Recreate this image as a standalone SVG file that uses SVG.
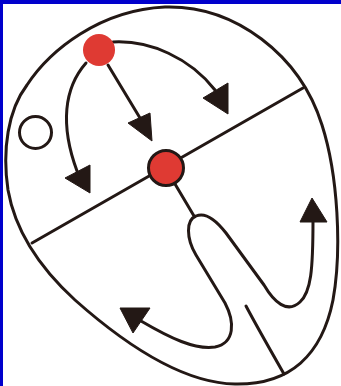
<svg xmlns="http://www.w3.org/2000/svg" width="341" height="386" viewBox="0 0 341 386">
<style>
.ln{fill:none;stroke:#231815;stroke-width:3;stroke-linecap:round;stroke-linejoin:round}
.ah{fill:#231815;stroke:#231815;stroke-width:1;stroke-linejoin:round}
.red{fill:#df3a33}
</style>
<rect x="0" y="0" width="341" height="386" fill="#ffffff"/>
<rect x="0" y="0" width="341" height="4" fill="#0000cc"/>
<rect x="0" y="0" width="3" height="386" fill="#0000cc"/>
<g id="outline">
<path class="ln" d="M 165,7 C 235,5 300,55 322,125 C 338,175 342,250 333,300 C 322,355 290,385 235,384 C 180,383 120,340 75,300 C 40,268 15,230 8,190 C 2,150 8,110 27,85 C 50,50 100,10 165,7 Z"/>
<path class="ln" d="M 32,243 L 303,88"/>
<path class="ln" d="M 246,306 Q 256,325 284,374"/>
</g>
<g id="connectors">
<path class="ln" d="M 113,42 C 150,40 190,58 215,90"/>
<polygon class="ah" points="228,114 203,98 228,83"/>
<path class="ln" d="M 108,65 L 140,118"/>
<polygon class="ah" points="152,141 128,123 150,113"/>
<path class="ln" d="M 86,63 C 64,88 60,125 77,171"/>
<polygon class="ah" points="90,193 65,178 90,165"/>
<path class="ln" d="M 175,184 L 194,216"/>
<path class="ln" d="M 141,321 C 170,338 195,350 215,347 C 235,343 235,322 225,303 L 196,255 C 186,238 186,220 196,216 C 205,212 216,220 226,233 L 264,285 C 274,302 287,314 300,302 C 311,292 313,270 313,220"/>
<polygon class="ah" points="120,308 150,308 133,333"/>
<polygon class="ah" points="312,198 300,222 327,222"/>
</g>
<g id="node-top">
<circle class="red" cx="99" cy="50" r="16"/>
</g>
<g id="node-center">
<circle class="red" cx="166" cy="168" r="17.5" stroke="#231815" stroke-width="3"/>
</g>
<g id="node-small">
<circle cx="35.5" cy="132.5" r="16" fill="#ffffff" stroke="#231815" stroke-width="3"/>
</g>
</svg>
